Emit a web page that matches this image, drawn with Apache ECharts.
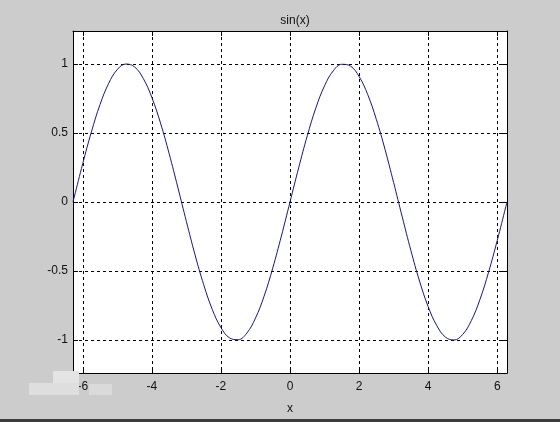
<!DOCTYPE html>
<html>
<head>
<meta charset="utf-8">
<script src="https://cdn.jsdelivr.net/npm/echarts@6/dist/echarts.min.js"></script>
<style>
html,body{margin:0;padding:0;background:#cccccc;}
#c{width:560px;height:422px;}
</style>
</head>
<body>
<div id="c"></div>
<script>
// Data (sin curve)
const xValues = [-6.283,-6.25,-6.0,-5.75,-5.5,-5.25,-5.0,-4.75,-4.5,-4.25,-4.0,-3.75,-3.5,-3.25,-3.0,-2.75,-2.5,-2.25,-2.0,-1.75,-1.5,-1.25,-1.0,-0.75,-0.5,-0.25,0,0.25,0.5,0.75,1.0,1.25,1.5,1.75,2.0,2.25,2.5,2.75,3.0,3.25,3.5,3.75,4.0,4.25,4.5,4.75,5.0,5.25,5.5,5.75,6.0,6.25,6.283];
const yValues = [0,0.033,0.279,0.508,0.706,0.859,0.959,0.999,0.978,0.895,0.757,0.572,0.351,0.108,-0.141,-0.382,-0.598,-0.778,-0.909,-0.984,-0.997,-0.949,-0.841,-0.682,-0.479,-0.247,0,0.247,0.479,0.682,0.841,0.949,0.997,0.984,0.909,0.778,0.598,0.382,0.141,-0.108,-0.351,-0.572,-0.757,-0.895,-0.978,-0.999,-0.959,-0.859,-0.706,-0.508,-0.279,-0.033,0];
const xTicks = [-6,-4,-2,0,2,4,6];
const yTicks = [-1,-0.5,0,0.5,1];
const titleText = 'sin(x)';
const xLabel = 'x';

const points = xValues.map((x,i)=>[x,yValues[i]]);
const chart = echarts.init(document.getElementById('c'));
const font = 'Liberation Sans, Arial, sans-serif';
const gridLine = {show:true, lineStyle:{color:'#000', type:[3,3], width:1}};
function xAx(pos, labels){
  return {
    type:'value', position:pos, min:-6.2832, max:6.2832,
    axisLine:{show:true, onZero:false, lineStyle:{color:'#000', width:1}},
    axisTick:{show:true, inside:true, length:5, customValues:xTicks, lineStyle:{color:'#000'}},
    axisLabel:{show:labels, customValues:xTicks, color:'#111', fontSize:12, fontFamily:font, margin:8},
    splitLine: labels ? Object.assign({customValues:xTicks}, gridLine) : {show:false},
    name: labels ? xLabel : '', nameLocation:'middle', nameGap:30,
    nameTextStyle:{color:'#111', fontSize:12, fontFamily:font}
  };
}
function yAx(pos, labels){
  return {
    type:'value', position:pos, min:-1.238, max:1.238,
    axisLine:{show:true, onZero:false, lineStyle:{color:'#000', width:1}},
    axisTick:{show:true, inside:true, length:5, customValues:yTicks, lineStyle:{color:'#000'}},
    axisLabel:{show:labels, customValues:yTicks, color:'#111', fontSize:12, fontFamily:font, margin:5},
    splitLine: labels ? Object.assign({customValues:yTicks}, gridLine) : {show:false}
  };
}
chart.setOption({
  backgroundColor:'#cccccc',
  animation:false,
  title:{text:titleText, left:290, top:10, textAlign:'center',
    textStyle:{fontSize:12, fontWeight:'normal', color:'#111', fontFamily:font}},
  grid:{left:73, top:31, width:434, height:342, show:true, backgroundColor:'#ffffff', borderWidth:0},
  xAxis:[xAx('bottom', true), xAx('top', false)],
  yAxis:[yAx('left', true), yAx('right', false)],
  series:[{type:'line', data:points, xAxisIndex:0, yAxisIndex:0, showSymbol:false, smooth:0.4,
    lineStyle:{color:'#14148c', width:1}, z:5}],
  graphic:[
    {type:'rect', shape:{x:0,y:419,width:560,height:3}, style:{fill:'#3c3c3c'}, z:100},
    {type:'rect', shape:{x:29,y:383,width:50,height:12}, style:{fill:'#dedede'}, z:100},
    {type:'rect', shape:{x:53,y:371,width:26,height:12}, style:{fill:'#e4e4e4'}, z:100},
    {type:'rect', shape:{x:89,y:384,width:23,height:11}, style:{fill:'#dadada'}, z:100}
  ]
});
</script>
</body>
</html>
